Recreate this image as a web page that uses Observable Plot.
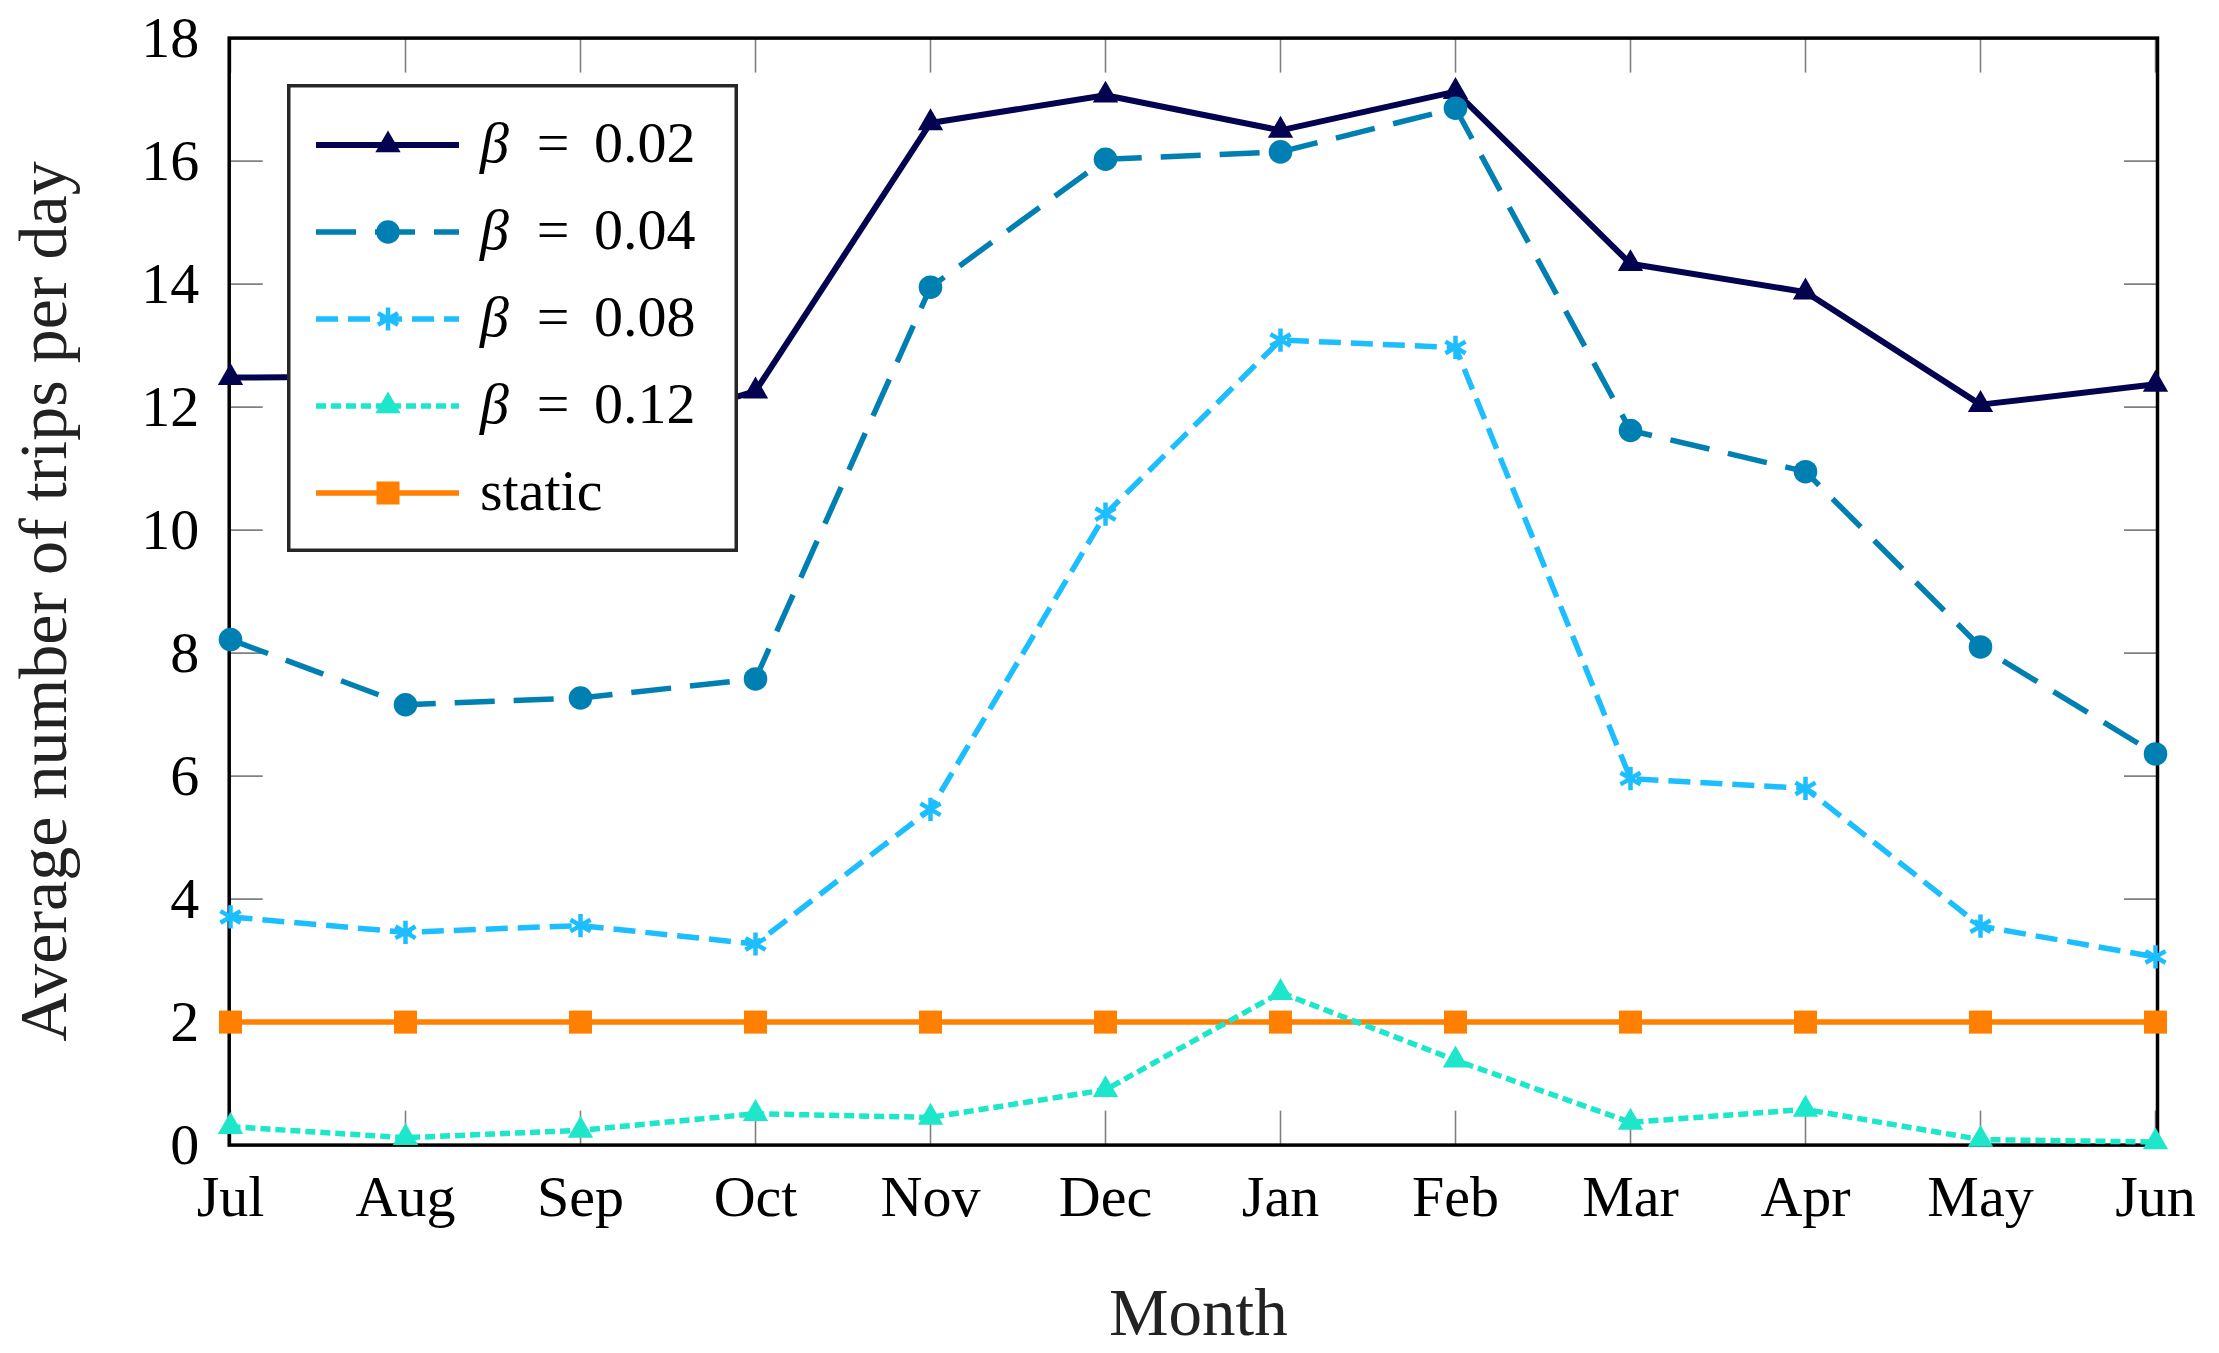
<!DOCTYPE html>
<html><head><meta charset="utf-8">
<script src="https://cdn.jsdelivr.net/npm/d3@7"></script>
<script src="https://cdn.jsdelivr.net/npm/@observablehq/plot@0.6"></script>
<style>
html,body{margin:0;padding:0;background:#fff;overflow:hidden}
#wrap{position:relative;width:2219px;height:1353px}
#legend{position:absolute}
svg text{font-family:'Liberation Serif','DejaVu Serif',serif}
</style></head><body><div id="wrap"></div>
<script>
// ---- data ----
const months = ["Jul","Aug","Sep","Oct","Nov","Dec","Jan","Feb","Mar","Apr","May","Jun"];
const beta002 = [12.48,12.5,11.4,12.26,16.62,17.07,16.5,17.13,14.33,13.87,12.04,12.37];
const beta004 = [8.22,7.16,7.27,7.58,13.95,16.03,16.15,16.86,11.62,10.95,8.1,6.36];
const beta008 = [3.71,3.46,3.57,3.27,5.46,10.26,13.09,12.97,5.96,5.8,3.56,3.06];
const beta012 = [0.3,0.12,0.24,0.51,0.45,0.9,2.48,1.38,0.37,0.58,0.09,0.05];
const staticTrips = [2,2,2,2,2,2,2,2,2,2,2,2];
const yTicks = [0,2,4,6,8,10,12,14,16,18];
const seriesNames = ["β = 0.02","β = 0.04","β = 0.08","β = 0.12","static"];
const xLabel = "Month";
const yLabel = "Average number of trips per day";

// ---- styles ----
const FONT = "'Liberation Serif', 'DejaVu Serif', serif";
const series = [
  {name: seriesNames[0], values: beta002, color: "#03034f", dash: null, width: 6, symbol: d3.symbolTriangle, r: 9.4, hollow: false},
  {name: seriesNames[1], values: beta004, color: "#007fb2", dash: "40 19", width: 5.5, symbol: d3.symbolCircle, r: 11.8, hollow: false},
  {name: seriesNames[2], values: beta008, color: "#1dbeff", dash: "22 10", width: 5.5, symbol: d3.symbolAsterisk, r: 11, hollow: true},
  {name: seriesNames[3], values: beta012, color: "#1de6cb", dash: "10 5", width: 5.5, symbol: d3.symbolTriangle, r: 9.4, hollow: false},
  {name: seriesNames[4], values: staticTrips, color: "#ff8000", dash: null, width: 5.5, symbol: d3.symbolSquare, r: 13, hollow: false}
];
const drawOrder = [4, 0, 1, 2, 3];

const tickStyle = {stroke: "#808080", strokeWidth: 1.6, tickFormat: () => "", label: null};

const marks = [
  Plot.axisY(yTicks, {anchor: "left", tickSize: -34, ...tickStyle}),
  Plot.axisY(yTicks, {anchor: "right", tickSize: -34, ...tickStyle}),
  Plot.axisX(months, {anchor: "bottom", tickSize: -34, ...tickStyle}),
  Plot.axisX(months, {anchor: "top", tickSize: -34, ...tickStyle}),
  Plot.axisY(yTicks, {anchor: "left", tickSize: 0, tickPadding: 30, fontSize: 58, label: null, fill: "black", tickFormat: d3.format("d"), fontFamily: FONT}),
  Plot.axisX(months, {anchor: "bottom", tickSize: 0, tickPadding: 30, fontSize: 58, label: null, fill: "black", fontFamily: FONT}),
  Plot.frame({stroke: "black", strokeWidth: 3.5}),
  Plot.text([yLabel], {frameAnchor: "left", rotate: -90, dx: -184.7, dy: 10, fontSize: 68, textAnchor: "middle", lineAnchor: "middle", fill: "#222", fontFamily: FONT}),
  Plot.text([xLabel], {frameAnchor: "bottom", dx: 5, dy: 190, fontSize: 67, lineAnchor: "bottom", fill: "#222", fontFamily: FONT})
];

for (const i of drawOrder) {
  const s = series[i];
  const rows = months.map((m, j) => ({month: m, value: s.values[j]}));
  marks.push(Plot.line(rows, {x: "month", y: "value", stroke: s.color, strokeWidth: s.width,
    strokeDasharray: s.dash, strokeLinecap: "butt", strokeLinejoin: "miter"}));
  marks.push(Plot.dot(rows, s.hollow
    ? {x: "month", y: "value", symbol: s.symbol, r: s.r, fill: "none", stroke: s.color, strokeWidth: 4.5}
    : {x: "month", y: "value", symbol: s.symbol, r: s.r, fill: s.color, stroke: "none"}));
}

const chart = Plot.plot({
  width: 2219, height: 1353,
  marginLeft: 228.7, marginRight: 62, marginTop: 37.6, marginBottom: 208.4,
  style: {fontFamily: FONT, background: "white", color: "black", overflow: "visible"},
  x: {type: "point", domain: months, padding: 0, label: null},
  y: {domain: [0, 18], label: null},
  marks
});
document.getElementById("wrap").appendChild(chart);

// ---- legend (inside plot, top-left) ----
const L = {left: 287, top: 84, w: 451, h: 468};
const lg = d3.select("#wrap").append("svg").attr("id", "legend")
  .style("left", L.left + "px").style("top", L.top + "px")
  .attr("width", L.w + 4).attr("height", L.h + 4)
  .attr("font-family", FONT);
lg.append("rect").attr("x", 1.75).attr("y", 1.75).attr("width", L.w - 3.5).attr("height", L.h - 3.5)
  .attr("fill", "white").attr("stroke", "#262626").attr("stroke-width", 3.5);
series.forEach((s, i) => {
  const y = 61 + i * 87;
  const g = lg.append("g");
  g.append("line").attr("x1", 29).attr("x2", 172).attr("y1", y).attr("y2", y)
    .attr("stroke", s.color).attr("stroke-width", s.width)
    .attr("stroke-dasharray", s.dash).attr("stroke-linecap", "butt");
  const sz = Math.PI * s.r * s.r;
  g.append("path").attr("d", d3.symbol(s.symbol, sz)()).attr("transform", `translate(101,${y})`)
    .attr("fill", s.hollow ? "none" : s.color).attr("stroke", s.hollow ? s.color : "none").attr("stroke-width", 4.5);
  const by = y + 17;
  if (s.name.startsWith("β")) {
    const parts = s.name.split(" = ");
    g.append("text").attr("x", 193).attr("y", by).attr("font-size", 58).attr("font-style", "italic").text(parts[0]);
    g.append("text").attr("x", 266).attr("y", by).attr("font-size", 58).attr("text-anchor", "middle").text("=");
    g.append("text").attr("x", 307).attr("y", by).attr("font-size", 58).text(parts[1]);
  } else {
    g.append("text").attr("x", 193).attr("y", by).attr("font-size", 58).text(s.name);
  }
});
</script></body></html>
